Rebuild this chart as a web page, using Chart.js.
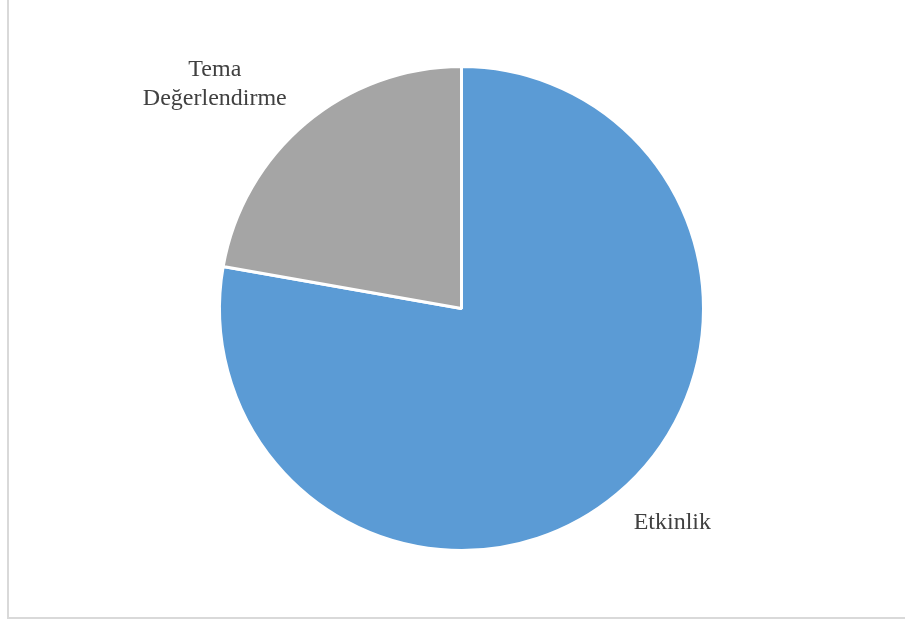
<!DOCTYPE html>
<html>
<head>
<meta charset="utf-8">
<script src="https://cdn.jsdelivr.net/npm/chart.js@4.4.0/dist/chart.umd.min.js"></script>
<style>
  html, body { margin: 0; padding: 0; background: #fff; overflow: hidden; }
  #wrap { position: relative; width: 905px; height: 622px; }
  #frame { position: absolute; left: 7px; top: -4px; width: 905px; height: 623px;
           border: 2px solid #d9d9d9; box-sizing: border-box; }
  #chart_area { position: absolute; left: 0; top: 0; }
</style>
</head>
<body>
<div id="wrap">
  <div id="frame"></div>
  <canvas id="chart_area" width="905" height="622"></canvas>
</div>
<script>
const labels = [['Etkinlik'], ['Tema', 'Değerlendirme']];
const values = [7, 2];
const colors = ['#5B9BD5', '#A5A5A5'];

// label placement: distance past the rim along the slice middle, then a nudge
const labelGap = [58, 92];
const labelNudge = [[18, -16], [-32, 32]];

const outsideLabels = {
  id: 'outsideLabels',
  afterDatasetsDraw(chart) {
    const c = chart.ctx;
    const meta = chart.getDatasetMeta(0);
    c.save();
    c.font = '24px "Liberation Serif", "Times New Roman", serif';
    c.fillStyle = '#404040';
    c.textAlign = 'center';
    c.textBaseline = 'middle';
    meta.data.forEach(function (arc, i) {
      const p = arc.getProps(['x', 'y', 'startAngle', 'endAngle', 'outerRadius'], true);
      const mid = (p.startAngle + p.endAngle) / 2;
      const r = p.outerRadius + labelGap[i];
      const x = p.x + Math.cos(mid) * r + labelNudge[i][0];
      const y = p.y + Math.sin(mid) * r + labelNudge[i][1];
      const lines = labels[i];
      const lh = 29;
      lines.forEach(function (t, k) {
        c.fillText(t, x, y + (k - (lines.length - 1) / 2) * lh);
      });
    });
    c.restore();
  }
};

let ctx = document.getElementById('chart_area').getContext('2d');
let chart = new Chart(ctx, {
  type: 'pie',
  data: {
    labels: labels.map(l => l.join(' ')),
    datasets: [{
      data: values,
      backgroundColor: colors,
      borderColor: '#ffffff',
      borderWidth: 3
    }]
  },
  options: {
    responsive: false,
    animation: false,
    layout: { padding: { left: 217, right: 199, top: 65, bottom: 70 } },
    plugins: {
      legend: { display: false },
      tooltip: { enabled: false }
    }
  },
  plugins: [outsideLabels]
});
</script>
</body>
</html>
